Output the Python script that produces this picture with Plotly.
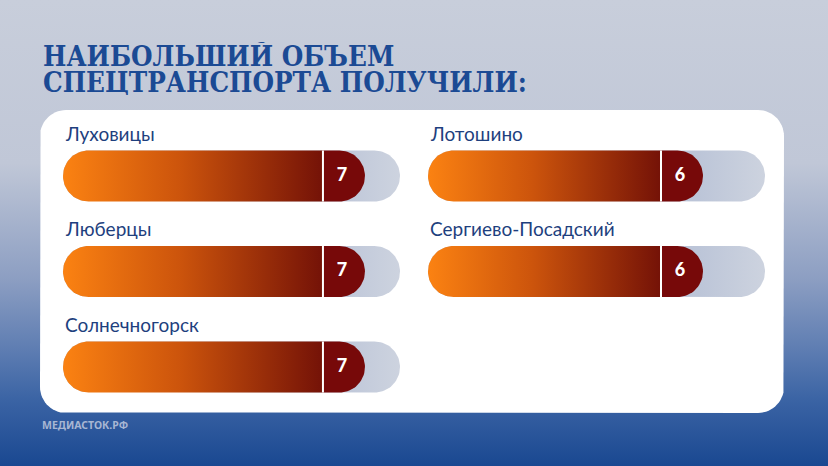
import numpy as np
import plotly.graph_objects as go

# ---------------- data ----------------
title_lines = ["НАИБОЛЬШИЙ ОБЪЕМ", "СПЕЦТРАНСПОРТА ПОЛУЧИЛИ:"]
left_regions = ["Луховицы", "Люберцы", "Солнечногорск"]
left_values = [7, 7, 7]
right_regions = ["Лотошино", "Сергиево-Посадский"]
right_values = [6, 6]
source_label = "МЕДИАСТОК.РФ"

# ---------------- layout constants (pixels) ----------------
W, H = 828, 466
X_MIN, X_MAX = -4.2, 8.3          # value scale drawn by each track
TRACK_PX = 337                     # track length in px
PAD = 6                            # clip padding around tracks
LEFT_X0, RIGHT_X0 = 63, 428        # track left edges
ROW0_PX, ROW_PX = 176, 95.5        # first row centre, row spacing
HALF_H = 25.5                      # bar half height
BADGE_PX = 42                      # dark value badge width
CARD = dict(x0=40, x1=784, y0=110, y1=413, r=26)

kx = (X_MAX - X_MIN) / TRACK_PX    # value units per px
ky = 1.0 / ROW_PX                  # row units per px
Y_TOP = -ROW0_PX * ky
Y_BOT = (H - ROW0_PX) * ky

ORANGE_SCALE = [[0, "#fb8212"], [0.45, "#cc540c"], [1, "#741207"]]
BADGE_COLOR = "#770909"
TRACK_SCALE = [[0, "#b9c3d7"], [0.8, "#bcc5d8"], [1, "#cdd3df"]]
BG_SCALE = [[0, "#c8cedb"], [0.35, "#c0c7d7"], [0.6, "#8c9ec2"],
            [0.75, "#5e7db2"], [0.86, "#3a63a4"], [1, "#1a4891"]]
BLUE = "#1b4a94"
LABEL_BLUE = "#1e3f7e"


def pill(x0, x1, yc, round_left, round_right):
    """Outline of a horizontal bar in (value, row) units with optional round ends."""
    rx, ry = HALF_H * kx, HALF_H * ky
    xs, ys = [], []
    if round_right:
        a = np.radians(np.linspace(-90, 90, 41))
        xs += list(x1 - rx + rx * np.cos(a))
        ys += list(yc + ry * np.sin(a))
    else:
        xs += [x1, x1]
        ys += [yc - ry, yc + ry]
    if round_left:
        a = np.radians(np.linspace(90, 270, 41))
        xs += list(x0 + rx + rx * np.cos(a))
        ys += list(yc + ry * np.sin(a))
    else:
        xs += [x0, x0]
        ys += [yc + ry, yc - ry]
    xs.append(xs[0])
    ys.append(ys[0])
    return xs, ys


def rounded_rect(x0, x1, y0, y1, r):
    """Card outline in page px (x) and row units (y)."""
    pts = []
    corners = [(x1 - r, y0 + r, -90, 0), (x1 - r, y1 - r, 0, 90),
               (x0 + r, y1 - r, 90, 180), (x0 + r, y0 + r, 180, 270)]
    for cx, cy, a0, a1 in corners:
        a = np.radians(np.linspace(a0, a1, 16))
        pts += list(zip(cx + r * np.cos(a), cy + r * np.sin(a)))
    pts.append(pts[0])
    xs = [p[0] for p in pts]
    ys = [(p[1] - ROW0_PX) * ky for p in pts]
    return xs, ys


fig = go.Figure()

# background gradient + white card on a full-page axis
fig.add_trace(go.Scatter(
    x=[0, W, W, 0, 0], y=[Y_TOP, Y_TOP, Y_BOT, Y_BOT, Y_TOP],
    mode="lines", line=dict(width=0), fill="toself",
    fillgradient=dict(type="vertical", colorscale=BG_SCALE, start=Y_TOP, stop=Y_BOT),
    xaxis="x", yaxis="y", hoverinfo="skip", showlegend=False))
cx, cy = rounded_rect(CARD["x0"], CARD["x1"], CARD["y0"], CARD["y1"], CARD["r"])
fig.add_trace(go.Scatter(
    x=cx, y=cy, mode="lines", line=dict(width=0), fill="toself",
    fillcolor="white", xaxis="x", yaxis="y", hoverinfo="skip", showlegend=False))


def add_column(regions, values, xref):
    for i, (name, val) in enumerate(zip(regions, values)):
        # track
        tx, ty = pill(X_MIN, X_MAX, i, True, True)
        fig.add_trace(go.Scatter(
            x=tx, y=ty, mode="lines", line=dict(width=0), fill="toself",
            fillgradient=dict(type="horizontal", colorscale=TRACK_SCALE,
                              start=X_MIN, stop=X_MAX),
            xaxis=xref, yaxis="y", hoverinfo="skip", showlegend=False))
        sep = val - BADGE_PX * kx
        # dark value badge
        bx, by = pill(sep, val, i, False, True)
        fig.add_trace(go.Scatter(
            x=bx, y=by, mode="lines", line=dict(width=0), fill="toself",
            fillcolor=BADGE_COLOR, xaxis=xref, yaxis="y",
            hoverinfo="skip", showlegend=False))
        # orange gradient body
        ox, oy = pill(X_MIN, sep, i, True, False)
        fig.add_trace(go.Scatter(
            x=ox, y=oy, mode="lines", line=dict(width=0), fill="toself",
            fillgradient=dict(type="horizontal", colorscale=ORANGE_SCALE,
                              start=X_MIN, stop=sep),
            xaxis=xref, yaxis="y", hoverinfo="skip", showlegend=False))
        # white separator
        fig.add_trace(go.Scatter(
            x=[sep, sep], y=[i - HALF_H * ky, i + HALF_H * ky], mode="lines",
            line=dict(color="white", width=2), xaxis=xref, yaxis="y",
            hoverinfo="skip", showlegend=False))
        # value
        fig.add_trace(go.Scatter(
            x=[val - (BADGE_PX / 2 + 2) * kx], y=[i], mode="text", text=[str(val)],
            textposition="middle center",
            textfont=dict(family="Lato", size=18, color="white", weight=900),
            xaxis=xref, yaxis="y", hoverinfo="skip", showlegend=False))
        # region label
        fig.add_annotation(
            x=X_MIN, y=i - 43 * ky, xref=xref, yref="y", text=name,
            showarrow=False, xanchor="left", yanchor="middle",
            font=dict(family="Lato", size=19, color=LABEL_BLUE))


add_column(left_regions, left_values, "x2")
add_column(right_regions, right_values, "x3")

# title (two tightly spaced lines)
for j, line in enumerate(title_lines):
    fig.add_annotation(
        x=41 / W, y=1 - (55 + 27 * j) / H, xref="paper", yref="paper",
        text=line, showarrow=False, xanchor="left", yanchor="middle",
        height=26, valign="middle",
        font=dict(family="DejaVu Serif Condensed, DejaVu Serif", size=27.5,
                  color=BLUE, weight="bold"))

# source
fig.add_annotation(
    x=40 / W, y=1 - 425 / H, xref="paper", yref="paper", text=source_label,
    showarrow=False, xanchor="left", yanchor="middle",
    font=dict(family="Noto Sans", size=10.5, color="#a7b6d3", weight="bold"))

axis_off = dict(showgrid=False, zeroline=False, showticklabels=False,
                showline=False, ticks="", fixedrange=True)
left_dom = [(LEFT_X0 - PAD) / W, (LEFT_X0 + TRACK_PX + PAD) / W]
right_dom = [(RIGHT_X0 - PAD) / W, (RIGHT_X0 + TRACK_PX + PAD) / W]
val_range = [X_MIN - PAD * kx, X_MAX + PAD * kx]

fig.update_layout(
    width=W, height=H, margin=dict(l=0, r=0, t=0, b=0),
    paper_bgcolor="#1a4891", plot_bgcolor="rgba(0,0,0,0)",
    showlegend=False, hovermode=False,
    xaxis=dict(domain=[0, 1], range=[0, W], anchor="y", **axis_off),
    xaxis2=dict(domain=left_dom, range=val_range, anchor="y", **axis_off),
    xaxis3=dict(domain=right_dom, range=val_range, anchor="y", **axis_off),
    yaxis=dict(domain=[0, 1], range=[Y_BOT, Y_TOP], anchor="x", **axis_off),
)

fig.write_html("out.html", config={"displayModeBar": False},
               post_script="document.body.style.margin='0px';")
